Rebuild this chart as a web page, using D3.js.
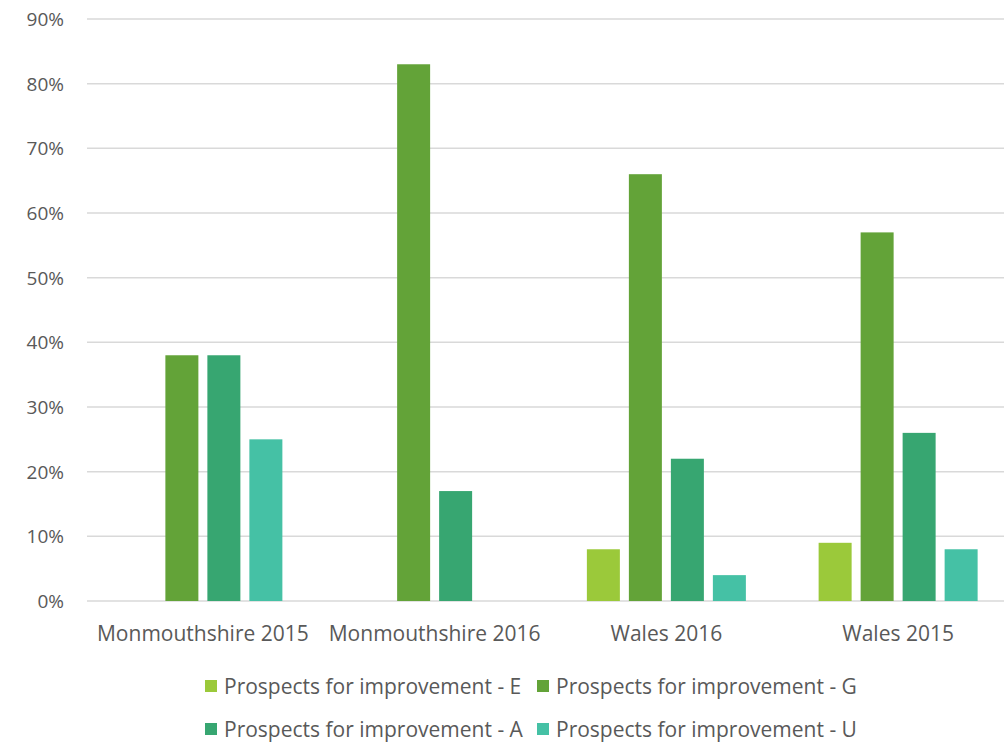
<!DOCTYPE html>
<html>
<head>
<meta charset="utf-8">
<script src="https://cdn.jsdelivr.net/npm/d3@7"></script>
<style>
  body { margin: 0; background: #fff; }
  text { font-family: "Open Sans", sans-serif; fill: #595959; }
</style>
</head>
<body>
<svg id="chart" width="1004" height="744"></svg>
<script>
const categories = ['Monmouthshire 2015', 'Monmouthshire 2016', 'Wales 2016', 'Wales 2015'];
const seriesNames = ['Prospects for improvement - E', 'Prospects for improvement - G',
                     'Prospects for improvement - A', 'Prospects for improvement - U'];
const valuesE = [0, 0, 8, 9];
const valuesG = [38, 83, 66, 57];
const valuesA = [38, 17, 22, 26];
const valuesU = [25, 0, 4, 8];
const yTicks = [0, 10, 20, 30, 40, 50, 60, 70, 80, 90];
const colors = ['#9bc93a', '#63a338', '#37a671', '#45c1a5'];

const series = [valuesE, valuesG, valuesA, valuesU];

const svg = d3.select('#chart');

const x = d3.scaleBand()
    .domain(categories)
    .range([87, 1014]);

const y = d3.scaleLinear()
    .domain([0, 90])
    .range([601, 19]);

const barW = 33, barStep = 42;
const groupW = barStep * (series.length - 1) + barW;

// gridlines
svg.append('g')
  .selectAll('line')
  .data(yTicks)
  .enter()
  .append('line')
  .attr('x1', 87)
  .attr('x2', 1004)
  .attr('y1', d => y(d))
  .attr('y2', d => y(d))
  .attr('stroke', '#d9d9d9')
  .attr('stroke-width', 1.5);

// y labels
svg.append('g')
  .selectAll('text')
  .data(yTicks)
  .enter()
  .append('text')
  .attr('x', 64)
  .attr('y', d => y(d))
  .attr('dy', '0.36em')
  .attr('text-anchor', 'end')
  .style('font-size', '19px')
  .text(d => d + '%');

// bars
series.forEach((vals, si) => {
    svg.append('g')
      .selectAll('rect')
      .data(vals.map((v, ci) => ({cat: categories[ci], v: v})))
      .enter()
      .filter(d => d.v > 0)
      .append('rect')
      .attr('x', d => x(d.cat) + x.bandwidth() / 2 - groupW / 2 + si * barStep)
      .attr('y', d => y(d.v))
      .attr('width', barW)
      .attr('height', d => y(0) - y(d.v))
      .attr('fill', colors[si]);
});

// category labels
svg.append('g')
  .selectAll('text')
  .data(categories)
  .enter()
  .append('text')
  .attr('x', d => x(d) + x.bandwidth() / 2)
  .attr('y', 633)
  .attr('dy', '0.36em')
  .attr('text-anchor', 'middle')
  .style('font-size', '21px')
  .text(d => d);

// legend
const legendPos = [[205, 686], [537, 686], [205, 729], [537, 729]];
const legend = svg.append('g')
  .selectAll('g')
  .data(seriesNames)
  .enter()
  .append('g')
  .attr('transform', (d, i) => `translate(${legendPos[i][0]},${legendPos[i][1]})`);

legend.append('rect')
  .attr('x', 0)
  .attr('y', -6)
  .attr('width', 12)
  .attr('height', 12)
  .attr('fill', (d, i) => colors[i]);

legend.append('text')
  .attr('x', 19)
  .attr('y', 0)
  .attr('dy', '0.36em')
  .style('font-size', '21px')
  .text(d => d);
</script>
</body>
</html>
